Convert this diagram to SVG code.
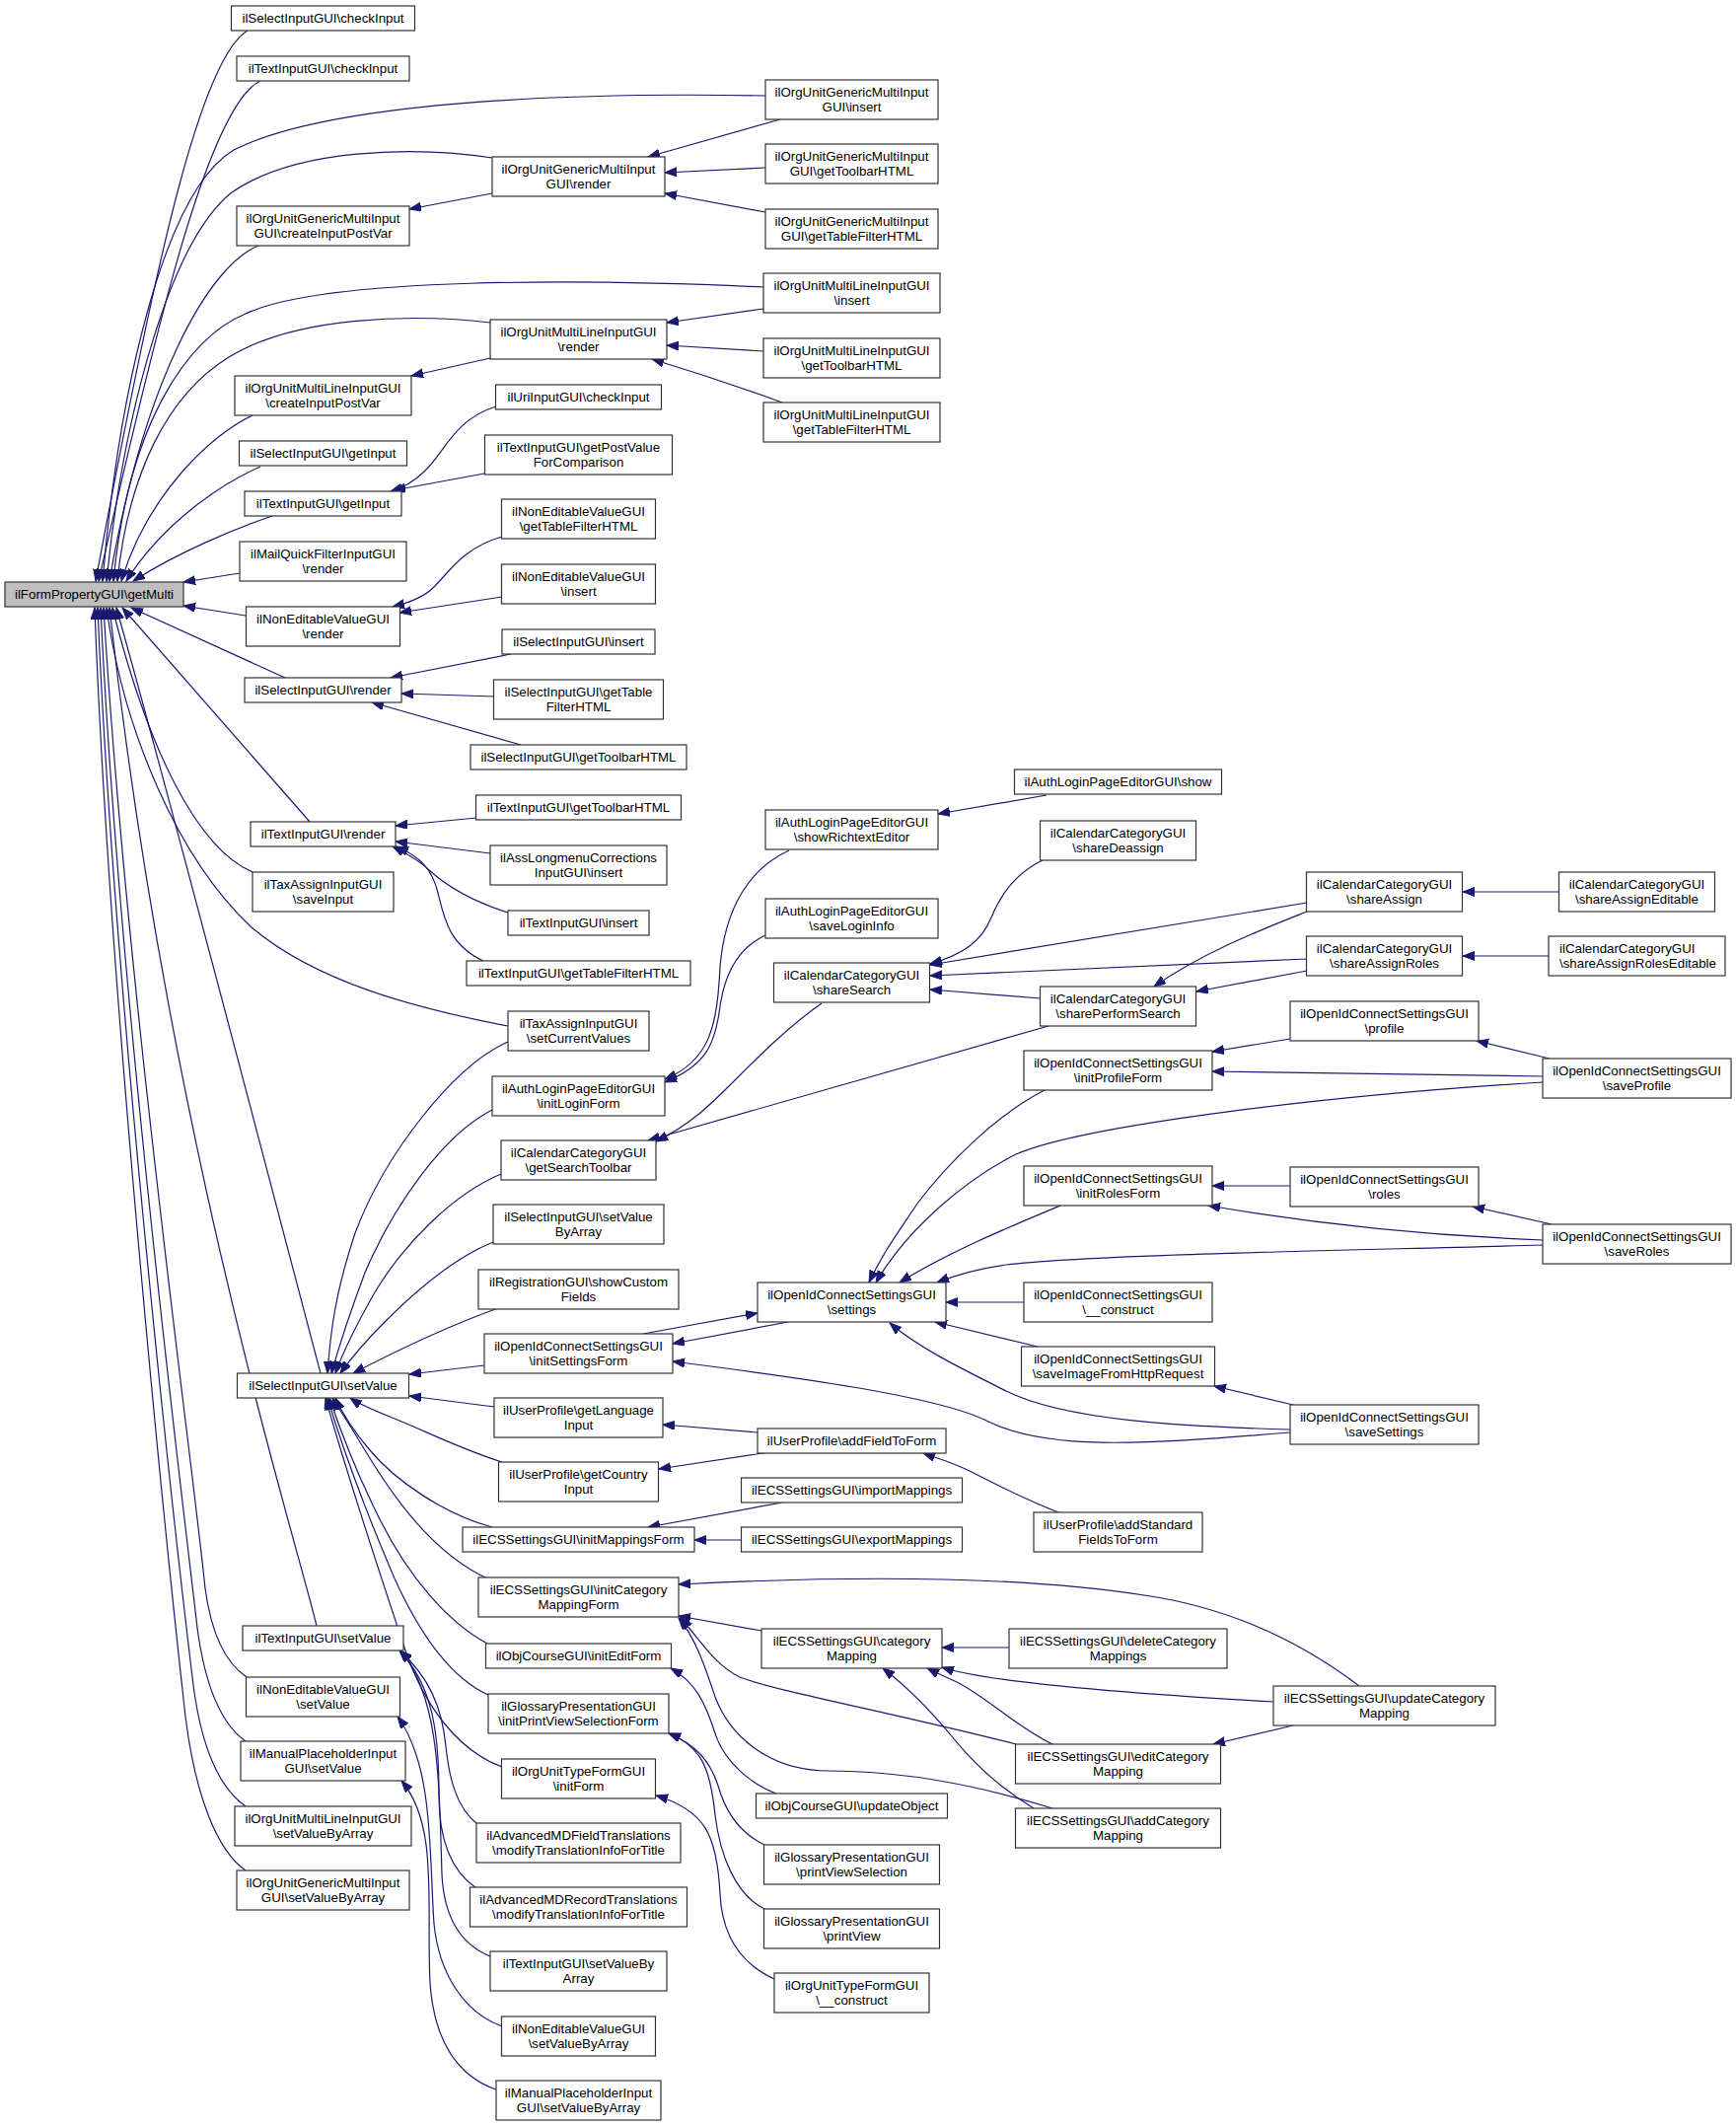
<svg xmlns="http://www.w3.org/2000/svg" width="1760" height="2155" viewBox="0 0 1760 2155">
<style>
rect.n{fill:#ffffff;stroke:#333333;stroke-width:1.2}
rect.hl{fill:#bfbfbf;stroke:#333333;stroke-width:1.2}
text{font-family:"Liberation Sans",Arial,Helvetica,sans-serif;font-size:13.3px;fill:#000000;text-anchor:middle}
text.l{text-anchor:start}
#edges path{fill:none;stroke:#191970;stroke-width:1.2;marker-end:url(#arr)}
</style>
<defs>
<marker id="arr" markerUnits="userSpaceOnUse" markerWidth="14" markerHeight="10" refX="12" refY="4.5" orient="auto">
<path d="M0,0 L12,4.5 L0,9 z" fill="#191970" stroke="#191970" stroke-width="1"/>
</marker>
</defs>
<rect x="0" y="0" width="1760" height="2155" fill="#ffffff"/>
<g id="edges">
<path d="M251,31 C205,58 160,250 97,589"/>
<path d="M264,82 C215,105 165,300 100,589"/>
<path d="M776,97 C560,93 330,105 237,152 C165,195 120,400 104,589"/>
<path d="M499,160 C420,148 300,150 235,195 C172,245 125,420 108,589"/>
<path d="M262,249 C210,270 145,390 111,589"/>
<path d="M774,291 C600,283 330,280 249,318 C190,342 130,430 115,589"/>
<path d="M497,327 C420,318 300,320 232,362 C170,400 130,480 119,589"/>
<path d="M256,421 C215,440 150,500 123,589"/>
<path d="M264,473 C225,490 165,530 128,589"/>
<path d="M276,523 C240,535 180,560 135,589"/>
<path d="M243,581 L186,590"/>
<path d="M249,624 L186,614"/>
<path d="M289,687 L133,616"/>
<path d="M314,833 L124,616"/>
<path d="M256,884 C200,860 150,760 114,616"/>
<path d="M515,1040 C420,1022 320,995 255,940 C180,870 125,740 108,616"/>
<path d="M325,1392 C290,1260 170,800 118,616"/>
<path d="M321,1648 C300,1560 170,1150 111,616"/>
<path d="M250,1700 C228,1685 214,1655 208,1610 C195,1480 128,1000 105,616"/>
<path d="M249,1765 C225,1748 208,1710 200,1650 C185,1520 120,1000 102,616"/>
<path d="M249,1831 C222,1812 203,1770 195,1700 C178,1560 115,1000 99,616"/>
<path d="M249,1896 C220,1876 198,1820 188,1740 C170,1580 110,1000 96,616"/>
<path d="M791,121 L657,159"/>
<path d="M776,170 L674,175"/>
<path d="M776,215 L674,196"/>
<path d="M499,196 L415,212"/>
<path d="M774,313 L676,327"/>
<path d="M774,356 L676,350"/>
<path d="M793,408 C760,396 720,382 661,364"/>
<path d="M497,363 L417,381"/>
<path d="M503,412 C460,425 450,460 430,478 C420,488 410,494 396,498"/>
<path d="M491,480 L399,497"/>
<path d="M509,544 C470,555 455,580 440,595 C430,605 415,611 398,615"/>
<path d="M509,605 L405,621"/>
<path d="M518,663 L396,687"/>
<path d="M501,706 L407,703"/>
<path d="M528,755 L377,712"/>
<path d="M483,829 L401,837"/>
<path d="M497,865 L401,853"/>
<path d="M515,925 C480,914 455,900 435,882 C425,872 410,864 398,858"/>
<path d="M490,974 C455,958 450,930 444,905 C438,880 425,868 402,858"/>
<path d="M515,1056 C460,1080 390,1170 360,1250 C340,1310 335,1350 332,1392"/>
<path d="M499,1125 C450,1150 400,1220 370,1290 C355,1330 345,1360 336,1392"/>
<path d="M508,1190 C460,1210 410,1260 380,1310 C360,1345 348,1370 340,1392"/>
<path d="M500,1259 C460,1275 420,1310 390,1340 C370,1360 355,1378 345,1392"/>
<path d="M505,1326 C460,1342 410,1365 358,1392"/>
<path d="M491,1384 L415,1393"/>
<path d="M501,1426 L415,1415"/>
<path d="M509,1482 C470,1470 430,1450 400,1438 C380,1430 365,1424 355,1417"/>
<path d="M499,1548 C450,1535 400,1500 375,1470 C358,1450 348,1435 340,1417"/>
<path d="M494,1600 C440,1575 400,1520 370,1470 C355,1445 345,1430 337,1417"/>
<path d="M494,1666 C455,1645 415,1600 385,1540 C360,1490 345,1450 334,1417"/>
<path d="M495,1718 C455,1700 425,1655 400,1600 C370,1530 345,1460 332,1417"/>
<path d="M509,1791 C465,1775 430,1730 410,1670 C380,1580 345,1470 330,1417"/>
<path d="M484,1849 C462,1832 455,1800 452,1770 C448,1730 435,1700 405,1673"/>
<path d="M483,1914 C455,1895 445,1860 445,1820 C445,1760 440,1710 405,1673"/>
<path d="M497,1983 C465,1970 450,1940 448,1900 C445,1800 445,1720 406,1673"/>
<path d="M509,2054 C470,2040 445,2000 440,1950 C435,1880 440,1790 403,1740"/>
<path d="M503,2118 C465,2105 440,2070 436,2010 C432,1930 445,1850 407,1805"/>
<path d="M1061,806 L951,825"/>
<path d="M800,862 C760,880 735,920 730,980 C727,1040 720,1075 674,1094"/>
<path d="M776,948 C750,960 735,985 730,1020 C725,1060 715,1080 674,1097"/>
<path d="M833,1017 C800,1040 770,1070 745,1095 C720,1120 700,1140 665,1157"/>
<path d="M1063,1040 L657,1156"/>
<path d="M1057,872 C1030,885 1015,905 1005,930 C995,955 975,968 943,977"/>
<path d="M1325,915 L943,978"/>
<path d="M1325,972 L943,989"/>
<path d="M1055,1012 L943,1003"/>
<path d="M1325,924 C1280,942 1220,965 1170,1000"/>
<path d="M1325,984 L1213,1005"/>
<path d="M1580,904 L1483,904"/>
<path d="M1570,969 L1483,969"/>
<path d="M652,1352 L768,1331"/>
<path d="M799,1340 L682,1362"/>
<path d="M1308,1452 C1150,1465 1060,1470 1000,1440 C950,1415 800,1395 682,1380"/>
<path d="M1308,1449 C1200,1446 1080,1440 1020,1410 C970,1385 930,1365 902,1341"/>
<path d="M1059,1105 C1010,1130 960,1180 930,1220 C910,1250 895,1270 881,1300"/>
<path d="M1564,1097 C1350,1110 1100,1140 1030,1170 C980,1195 920,1245 888,1300"/>
<path d="M1075,1222 C1020,1245 960,1270 912,1300"/>
<path d="M1564,1262 C1350,1268 1100,1272 1020,1282 C990,1286 970,1292 950,1300"/>
<path d="M1038,1320 L959,1320"/>
<path d="M1052,1365 L948,1340"/>
<path d="M1311,1424 L1231,1405"/>
<path d="M1308,1053 L1229,1066"/>
<path d="M1564,1091 L1229,1086"/>
<path d="M1571,1073 L1497,1055"/>
<path d="M1308,1202 L1229,1202"/>
<path d="M1564,1257 C1440,1252 1330,1240 1225,1222"/>
<path d="M1573,1241 L1493,1223"/>
<path d="M768,1452 L672,1444"/>
<path d="M780,1472 L668,1489"/>
<path d="M1073,1533 C1040,1520 1010,1505 985,1492 C965,1482 950,1478 936,1473"/>
<path d="M793,1523 L657,1548"/>
<path d="M752,1561 L704,1561"/>
<path d="M1378,1709 C1320,1665 1250,1630 1160,1617 C1050,1600 900,1595 688,1606"/>
<path d="M772,1653 L688,1638"/>
<path d="M1030,1768 C900,1735 790,1715 750,1700 C725,1688 712,1665 690,1640"/>
<path d="M1067,1833 C1000,1812 920,1795 840,1795 C780,1795 740,1760 725,1720 C715,1690 705,1660 688,1640"/>
<path d="M1023,1670 L955,1670"/>
<path d="M1291,1725 C1150,1717 1000,1705 955,1690"/>
<path d="M1067,1768 C1030,1750 1000,1720 970,1705 C955,1698 948,1695 940,1691"/>
<path d="M1048,1833 C1010,1810 985,1785 965,1760 C940,1730 920,1710 895,1691"/>
<path d="M1311,1749 L1230,1768"/>
<path d="M787,1818 C760,1808 735,1785 726,1760 C715,1725 705,1705 680,1691"/>
<path d="M775,1870 C750,1858 735,1835 728,1810 C720,1785 705,1768 678,1757"/>
<path d="M775,1935 C745,1920 730,1880 725,1840 C720,1790 710,1770 678,1757"/>
<path d="M785,2006 C750,1990 732,1960 730,1920 C727,1860 715,1835 665,1820"/>
</g>
<g id="n_getMulti"><rect class="hl" x="5" y="590" width="181" height="25"/><text x="95.5" y="607">ilFormPropertyGUI\getMulti</text></g>
<g id="n_selCheck"><rect class="n" x="234.5" y="6" width="186" height="25"/><text x="327.5" y="23">ilSelectInputGUI\checkInput</text></g>
<g id="n_txtCheck"><rect class="n" x="240" y="57" width="175" height="25"/><text x="327.5" y="74">ilTextInputGUI\checkInput</text></g>
<g id="n_ougCreate"><rect class="n" x="240" y="209" width="175" height="40"/><text x="327.5" y="226.3">ilOrgUnitGenericMultiInput</text><text x="327.5" y="240.7">GUI\createInputPostVar</text></g>
<g id="n_oumCreate"><rect class="n" x="238" y="381" width="179" height="40"/><text x="327.5" y="398.3">ilOrgUnitMultiLineInputGUI</text><text x="327.5" y="412.7">\createInputPostVar</text></g>
<g id="n_selGetInput"><rect class="n" x="242.5" y="447" width="170" height="25"/><text x="327.5" y="464">ilSelectInputGUI\getInput</text></g>
<g id="n_txtGetInput"><rect class="n" x="248" y="498" width="159" height="25"/><text x="327.5" y="515">ilTextInputGUI\getInput</text></g>
<g id="n_mailRender"><rect class="n" x="243" y="549" width="169" height="40"/><text x="327.5" y="566.3">ilMailQuickFilterInputGUI</text><text x="327.5" y="580.7">\render</text></g>
<g id="n_neRender"><rect class="n" x="249.5" y="615" width="156" height="40"/><text x="327.5" y="632.3">ilNonEditableValueGUI</text><text x="327.5" y="646.7">\render</text></g>
<g id="n_selRender"><rect class="n" x="248" y="687" width="159" height="25"/><text x="327.5" y="704">ilSelectInputGUI\render</text></g>
<g id="n_txtRender"><rect class="n" x="254" y="833" width="147" height="25"/><text x="327.5" y="850">ilTextInputGUI\render</text></g>
<g id="n_taxSave"><rect class="n" x="256" y="884" width="143" height="40"/><text x="327.5" y="901.3">ilTaxAssignInputGUI</text><text x="327.5" y="915.7">\saveInput</text></g>
<g id="n_selSetValue"><rect class="n" x="240.5" y="1392" width="174" height="25"/><text x="327.5" y="1409">ilSelectInputGUI\setValue</text></g>
<g id="n_txtSetValue"><rect class="n" x="246" y="1648" width="163" height="25"/><text x="327.5" y="1665">ilTextInputGUI\setValue</text></g>
<g id="n_neSetValue"><rect class="n" x="249.5" y="1700" width="156" height="40"/><text x="327.5" y="1717.3">ilNonEditableValueGUI</text><text x="327.5" y="1731.7">\setValue</text></g>
<g id="n_mpSetValue"><rect class="n" x="244" y="1765" width="167" height="40"/><text x="327.5" y="1782.3">ilManualPlaceholderInput</text><text x="327.5" y="1796.7">GUI\setValue</text></g>
<g id="n_oumSVBA"><rect class="n" x="238" y="1831" width="179" height="40"/><text x="327.5" y="1848.3">ilOrgUnitMultiLineInputGUI</text><text x="327.5" y="1862.7">\setValueByArray</text></g>
<g id="n_ougSVBA"><rect class="n" x="240" y="1896" width="175" height="40"/><text x="327.5" y="1913.3">ilOrgUnitGenericMultiInput</text><text x="327.5" y="1927.7">GUI\setValueByArray</text></g>
<g id="n_ougRender"><rect class="n" x="499" y="159" width="175" height="40"/><text x="586.5" y="176.3">ilOrgUnitGenericMultiInput</text><text x="586.5" y="190.7">GUI\render</text></g>
<g id="n_oumRender"><rect class="n" x="497" y="324" width="179" height="40"/><text x="586.5" y="341.3">ilOrgUnitMultiLineInputGUI</text><text x="586.5" y="355.7">\render</text></g>
<g id="n_uriCheck"><rect class="n" x="502.5" y="390" width="168" height="25"/><text x="586.5" y="407">ilUriInputGUI\checkInput</text></g>
<g id="n_txtPostVal"><rect class="n" x="491.5" y="441" width="190" height="40"/><text x="586.5" y="458.3">ilTextInputGUI\getPostValue</text><text x="586.5" y="472.7">ForComparison</text></g>
<g id="n_neTFH"><rect class="n" x="508.5" y="506" width="156" height="40"/><text x="586.5" y="523.3">ilNonEditableValueGUI</text><text x="586.5" y="537.7">\getTableFilterHTML</text></g>
<g id="n_neInsert"><rect class="n" x="508.5" y="572" width="156" height="40"/><text x="586.5" y="589.3">ilNonEditableValueGUI</text><text x="586.5" y="603.7">\insert</text></g>
<g id="n_selInsert"><rect class="n" x="509" y="638" width="155" height="25"/><text x="586.5" y="655">ilSelectInputGUI\insert</text></g>
<g id="n_selTFH"><rect class="n" x="500.5" y="689" width="172" height="40"/><text x="586.5" y="706.3">ilSelectInputGUI\getTable</text><text x="586.5" y="720.7">FilterHTML</text></g>
<g id="n_selTbH"><rect class="n" x="477" y="755" width="219" height="25"/><text x="586.5" y="772">ilSelectInputGUI\getToolbarHTML</text></g>
<g id="n_txtTbH"><rect class="n" x="482.5" y="806" width="208" height="25"/><text x="586.5" y="823">ilTextInputGUI\getToolbarHTML</text></g>
<g id="n_assInsert"><rect class="n" x="497" y="857" width="179" height="40"/><text x="586.5" y="874.3">ilAssLongmenuCorrections</text><text x="586.5" y="888.7">InputGUI\insert</text></g>
<g id="n_txtInsert"><rect class="n" x="515" y="923" width="143" height="25"/><text x="586.5" y="940">ilTextInputGUI\insert</text></g>
<g id="n_txtTFH"><rect class="n" x="473" y="974" width="227" height="25"/><text x="586.5" y="991">ilTextInputGUI\getTableFilterHTML</text></g>
<g id="n_taxSetCur"><rect class="n" x="515" y="1025" width="143" height="40"/><text x="586.5" y="1042.3">ilTaxAssignInputGUI</text><text x="586.5" y="1056.7">\setCurrentValues</text></g>
<g id="n_authInit"><rect class="n" x="499" y="1091" width="175" height="40"/><text x="586.5" y="1108.3">ilAuthLoginPageEditorGUI</text><text x="586.5" y="1122.7">\initLoginForm</text></g>
<g id="n_calToolbar"><rect class="n" x="508" y="1156" width="157" height="40"/><text x="586.5" y="1173.3">ilCalendarCategoryGUI</text><text x="586.5" y="1187.7">\getSearchToolbar</text></g>
<g id="n_selSVBA"><rect class="n" x="500" y="1221" width="173" height="40"/><text x="586.5" y="1238.3">ilSelectInputGUI\setValue</text><text x="586.5" y="1252.7">ByArray</text></g>
<g id="n_regShow"><rect class="n" x="485" y="1287" width="203" height="40"/><text x="586.5" y="1304.3">ilRegistrationGUI\showCustom</text><text x="586.5" y="1318.7">Fields</text></g>
<g id="n_oidInitSettings"><rect class="n" x="491" y="1352" width="191" height="40"/><text x="586.5" y="1369.3">ilOpenIdConnectSettingsGUI</text><text x="586.5" y="1383.7">\initSettingsForm</text></g>
<g id="n_upLang"><rect class="n" x="501" y="1417" width="171" height="40"/><text x="586.5" y="1434.3">ilUserProfile\getLanguage</text><text x="586.5" y="1448.7">Input</text></g>
<g id="n_upCountry"><rect class="n" x="505.5" y="1482" width="162" height="40"/><text x="586.5" y="1499.3">ilUserProfile\getCountry</text><text x="586.5" y="1513.7">Input</text></g>
<g id="n_ecsInitMap"><rect class="n" x="469" y="1548" width="235" height="25"/><text x="586.5" y="1565">ilECSSettingsGUI\initMappingsForm</text></g>
<g id="n_ecsInitCat"><rect class="n" x="485" y="1599" width="203" height="40"/><text x="586.5" y="1616.3">ilECSSettingsGUI\initCategory</text><text x="586.5" y="1630.7">MappingForm</text></g>
<g id="n_objInitEdit"><rect class="n" x="492.5" y="1666" width="188" height="25"/><text x="586.5" y="1683">ilObjCourseGUI\initEditForm</text></g>
<g id="n_gloInit"><rect class="n" x="495" y="1717" width="183" height="40"/><text x="586.5" y="1734.3">ilGlossaryPresentationGUI</text><text x="586.5" y="1748.7">\initPrintViewSelectionForm</text></g>
<g id="n_outInitForm"><rect class="n" x="508.5" y="1783" width="156" height="40"/><text x="586.5" y="1800.3">ilOrgUnitTypeFormGUI</text><text x="586.5" y="1814.7">\initForm</text></g>
<g id="n_amdField"><rect class="n" x="483" y="1848" width="207" height="40"/><text x="586.5" y="1865.3">ilAdvancedMDFieldTranslations</text><text x="586.5" y="1879.7">\modifyTranslationInfoForTitle</text></g>
<g id="n_amdRecord"><rect class="n" x="476.5" y="1913" width="220" height="40"/><text x="586.5" y="1930.3">ilAdvancedMDRecordTranslations</text><text x="586.5" y="1944.7">\modifyTranslationInfoForTitle</text></g>
<g id="n_txtSVBA"><rect class="n" x="497" y="1978" width="179" height="40"/><text x="586.5" y="1995.3">ilTextInputGUI\setValueBy</text><text x="586.5" y="2009.7">Array</text></g>
<g id="n_neSVBA"><rect class="n" x="508.5" y="2044" width="156" height="40"/><text x="586.5" y="2061.3">ilNonEditableValueGUI</text><text x="586.5" y="2075.7">\setValueByArray</text></g>
<g id="n_mpSVBA"><rect class="n" x="503" y="2109" width="167" height="40"/><text x="586.5" y="2126.3">ilManualPlaceholderInput</text><text x="586.5" y="2140.7">GUI\setValueByArray</text></g>
<g id="n_ougInsert"><rect class="n" x="776" y="81" width="175" height="40"/><text x="863.5" y="98.3">ilOrgUnitGenericMultiInput</text><text x="863.5" y="112.7">GUI\insert</text></g>
<g id="n_ougTbH"><rect class="n" x="776" y="146" width="175" height="40"/><text x="863.5" y="163.3">ilOrgUnitGenericMultiInput</text><text x="863.5" y="177.7">GUI\getToolbarHTML</text></g>
<g id="n_ougTFH"><rect class="n" x="776" y="212" width="175" height="40"/><text x="863.5" y="229.3">ilOrgUnitGenericMultiInput</text><text x="863.5" y="243.7">GUI\getTableFilterHTML</text></g>
<g id="n_oumInsert"><rect class="n" x="774" y="277" width="179" height="40"/><text x="863.5" y="294.3">ilOrgUnitMultiLineInputGUI</text><text x="863.5" y="308.7">\insert</text></g>
<g id="n_oumTbH"><rect class="n" x="774" y="343" width="179" height="40"/><text x="863.5" y="360.3">ilOrgUnitMultiLineInputGUI</text><text x="863.5" y="374.7">\getToolbarHTML</text></g>
<g id="n_oumTFH"><rect class="n" x="774" y="408" width="179" height="40"/><text x="863.5" y="425.3">ilOrgUnitMultiLineInputGUI</text><text x="863.5" y="439.7">\getTableFilterHTML</text></g>
<g id="n_authRich"><rect class="n" x="776" y="821" width="175" height="40"/><text x="863.5" y="838.3">ilAuthLoginPageEditorGUI</text><text x="863.5" y="852.7">\showRichtextEditor</text></g>
<g id="n_authSaveLogin"><rect class="n" x="776" y="911" width="175" height="40"/><text x="863.5" y="928.3">ilAuthLoginPageEditorGUI</text><text x="863.5" y="942.7">\saveLoginInfo</text></g>
<g id="n_calShareSearch"><rect class="n" x="784.5" y="976" width="158" height="40"/><text x="863.5" y="993.3">ilCalendarCategoryGUI</text><text x="863.5" y="1007.7">\shareSearch</text></g>
<g id="n_oidSettings"><rect class="n" x="768" y="1300" width="191" height="40"/><text x="863.5" y="1317.3">ilOpenIdConnectSettingsGUI</text><text x="863.5" y="1331.7">\settings</text></g>
<g id="n_upAddField"><rect class="n" x="768" y="1448" width="191" height="25"/><text x="863.5" y="1465">ilUserProfile\addFieldToForm</text></g>
<g id="n_ecsImport"><rect class="n" x="751.5" y="1498" width="224" height="25"/><text x="863.5" y="1515">ilECSSettingsGUI\importMappings</text></g>
<g id="n_ecsExport"><rect class="n" x="751.5" y="1548" width="224" height="25"/><text x="863.5" y="1565">ilECSSettingsGUI\exportMappings</text></g>
<g id="n_ecsCatMap"><rect class="n" x="772" y="1651" width="183" height="40"/><text x="863.5" y="1668.3">ilECSSettingsGUI\category</text><text x="863.5" y="1682.7">Mapping</text></g>
<g id="n_objUpdate"><rect class="n" x="766.5" y="1818" width="194" height="25"/><text x="863.5" y="1835">ilObjCourseGUI\updateObject</text></g>
<g id="n_gloPVS"><rect class="n" x="774.5" y="1870" width="178" height="40"/><text x="863.5" y="1887.3">ilGlossaryPresentationGUI</text><text x="863.5" y="1901.7">\printViewSelection</text></g>
<g id="n_gloPV"><rect class="n" x="774.5" y="1935" width="178" height="40"/><text x="863.5" y="1952.3">ilGlossaryPresentationGUI</text><text x="863.5" y="1966.7">\printView</text></g>
<g id="n_outConstruct"><rect class="n" x="785" y="2000" width="157" height="40"/><text x="863.5" y="2017.3">ilOrgUnitTypeFormGUI</text><text x="863.5" y="2031.7">\__construct</text></g>
<g id="n_authShow"><rect class="n" x="1028.5" y="780" width="210" height="25"/><text x="1133.5" y="797">ilAuthLoginPageEditorGUI\show</text></g>
<g id="n_calDeassign"><rect class="n" x="1054.5" y="832" width="158" height="40"/><text x="1133.5" y="849.3">ilCalendarCategoryGUI</text><text x="1133.5" y="863.7">\shareDeassign</text></g>
<g id="n_calPerform"><rect class="n" x="1054.5" y="1000" width="158" height="40"/><text x="1133.5" y="1017.3">ilCalendarCategoryGUI</text><text x="1133.5" y="1031.7">\sharePerformSearch</text></g>
<g id="n_oidInitProfile"><rect class="n" x="1038" y="1065" width="191" height="40"/><text x="1133.5" y="1082.3">ilOpenIdConnectSettingsGUI</text><text x="1133.5" y="1096.7">\initProfileForm</text></g>
<g id="n_oidInitRoles"><rect class="n" x="1038" y="1182" width="191" height="40"/><text x="1133.5" y="1199.3">ilOpenIdConnectSettingsGUI</text><text x="1133.5" y="1213.7">\initRolesForm</text></g>
<g id="n_oidConstruct"><rect class="n" x="1038" y="1300" width="191" height="40"/><text x="1133.5" y="1317.3">ilOpenIdConnectSettingsGUI</text><text x="1133.5" y="1331.7">\__construct</text></g>
<g id="n_oidSaveImage"><rect class="n" x="1035.5" y="1365" width="196" height="40"/><text x="1133.5" y="1382.3">ilOpenIdConnectSettingsGUI</text><text x="1133.5" y="1396.7">\saveImageFromHttpRequest</text></g>
<g id="n_upAddStd"><rect class="n" x="1048" y="1533" width="171" height="40"/><text x="1133.5" y="1550.3">ilUserProfile\addStandard</text><text x="1133.5" y="1564.7">FieldsToForm</text></g>
<g id="n_ecsDelete"><rect class="n" x="1023" y="1651" width="221" height="40"/><text x="1133.5" y="1668.3">ilECSSettingsGUI\deleteCategory</text><text x="1133.5" y="1682.7">Mappings</text></g>
<g id="n_ecsEdit"><rect class="n" x="1029.5" y="1768" width="208" height="40"/><text x="1133.5" y="1785.3">ilECSSettingsGUI\editCategory</text><text x="1133.5" y="1799.7">Mapping</text></g>
<g id="n_ecsAdd"><rect class="n" x="1029.5" y="1833" width="208" height="40"/><text x="1133.5" y="1850.3">ilECSSettingsGUI\addCategory</text><text x="1133.5" y="1864.7">Mapping</text></g>
<g id="n_calShareAssign"><rect class="n" x="1324.5" y="884" width="158" height="40"/><text x="1403.5" y="901.3">ilCalendarCategoryGUI</text><text x="1403.5" y="915.7">\shareAssign</text></g>
<g id="n_calShareAssignRoles"><rect class="n" x="1324.5" y="949" width="158" height="40"/><text x="1403.5" y="966.3">ilCalendarCategoryGUI</text><text x="1403.5" y="980.7">\shareAssignRoles</text></g>
<g id="n_oidProfile"><rect class="n" x="1308" y="1015" width="191" height="40"/><text x="1403.5" y="1032.3">ilOpenIdConnectSettingsGUI</text><text x="1403.5" y="1046.7">\profile</text></g>
<g id="n_oidRoles"><rect class="n" x="1308" y="1183" width="191" height="40"/><text x="1403.5" y="1200.3">ilOpenIdConnectSettingsGUI</text><text x="1403.5" y="1214.7">\roles</text></g>
<g id="n_oidSaveSettings"><rect class="n" x="1308" y="1424" width="191" height="40"/><text x="1403.5" y="1441.3">ilOpenIdConnectSettingsGUI</text><text x="1403.5" y="1455.7">\saveSettings</text></g>
<g id="n_ecsUpdate"><rect class="n" x="1291" y="1709" width="225" height="40"/><text x="1403.5" y="1726.3">ilECSSettingsGUI\updateCategory</text><text x="1403.5" y="1740.7">Mapping</text></g>
<g id="n_calSAE"><rect class="n" x="1580.5" y="884" width="158" height="40"/><text x="1659.5" y="901.3">ilCalendarCategoryGUI</text><text x="1659.5" y="915.7">\shareAssignEditable</text></g>
<g id="n_calSARE"><rect class="n" x="1570" y="949" width="179" height="40"/><text class="l" x="1581" y="966.3">ilCalendarCategoryGUI</text><text class="l" x="1581" y="980.7">\shareAssignRolesEditable</text></g>
<g id="n_oidSaveProfile"><rect class="n" x="1564" y="1073" width="191" height="40"/><text x="1659.5" y="1090.3">ilOpenIdConnectSettingsGUI</text><text x="1659.5" y="1104.7">\saveProfile</text></g>
<g id="n_oidSaveRoles"><rect class="n" x="1564" y="1241" width="191" height="40"/><text x="1659.5" y="1258.3">ilOpenIdConnectSettingsGUI</text><text x="1659.5" y="1272.7">\saveRoles</text></g>
</svg>
